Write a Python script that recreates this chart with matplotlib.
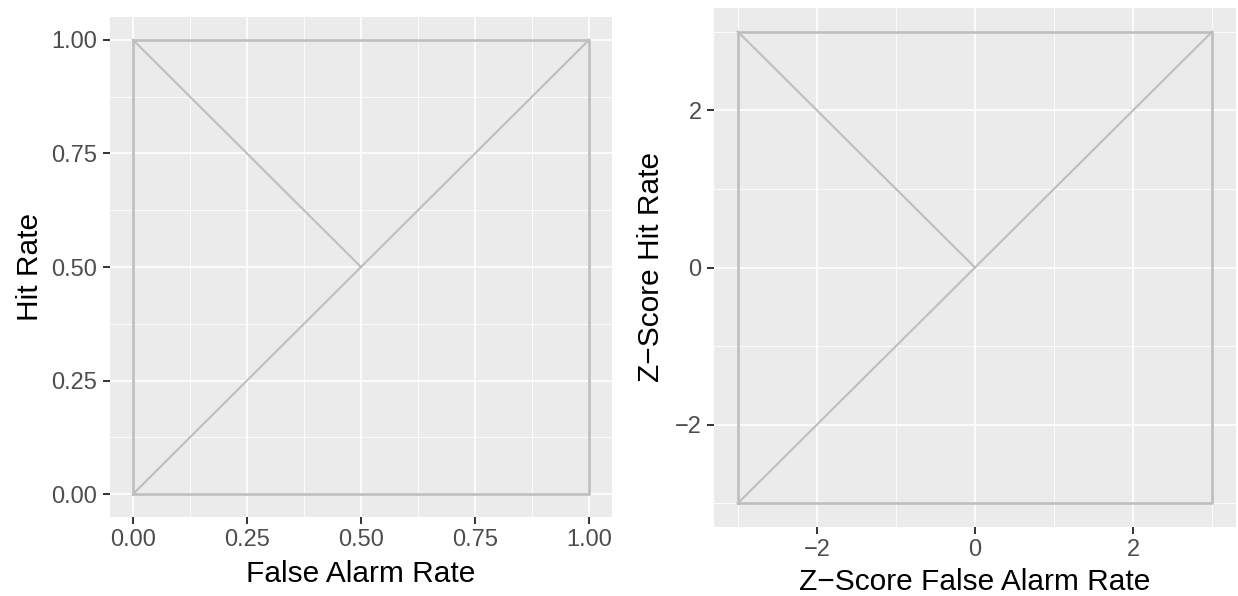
import matplotlib
matplotlib.use("Agg")
import matplotlib.pyplot as plt
import numpy as np

# ---- data ----
left_frame_x = [0, 1, 1, 0, 0]
left_frame_y = [0, 0, 1, 1, 0]
left_diag_x = [0, 1]
left_diag_y = [0, 1]
left_anti_x = [0, 0.5]
left_anti_y = [1, 0.5]
left_ticks = [0.00, 0.25, 0.50, 0.75, 1.00]
left_ticklabels = ["0.00", "0.25", "0.50", "0.75", "1.00"]
left_minor = [0.125, 0.375, 0.625, 0.875]

right_frame_x = [-3, 3, 3, -3, -3]
right_frame_y = [-3, -3, 3, 3, -3]
right_diag_x = [-3, 3]
right_diag_y = [-3, 3]
right_anti_x = [-3, 0]
right_anti_y = [3, 0]
right_ticks = [-2, 0, 2]
right_ticklabels = ["\u22122", "0", "2"]
right_minor = [-3, -1, 1, 3]

plt.rcParams['font.family'] = ['Liberation Sans', 'DejaVu Sans']

W, H = 1238, 596
fig = plt.figure(figsize=(W / 100, H / 100), dpi=100)

LINE = "#BEBEBE"
BG = "#EBEBEB"

def px_axes(x0, y0, x1, y1):
    return fig.add_axes([x0 / W, 1 - y1 / H, (x1 - x0) / W, (y1 - y0) / H])

def style(ax, ticks, labels, minor, lim):
    ax.set_facecolor(BG)
    for s in ax.spines.values():
        s.set_visible(False)
    ax.set_xlim(lim)
    ax.set_ylim(lim)
    ax.set_xticks(ticks)
    ax.set_yticks(ticks)
    ax.set_xticklabels(labels)
    ax.set_yticklabels(labels)
    for m in minor:
        ax.axvline(m, color="white", lw=0.6, zorder=0.5)
        ax.axhline(m, color="white", lw=0.6, zorder=0.5)
    for t in ticks:
        ax.axvline(t, color="white", lw=1.2, zorder=0.6)
        ax.axhline(t, color="white", lw=1.2, zorder=0.6)
    ax.tick_params(axis="both", length=5, width=1.4, color="#333333",
                   labelsize=17, labelcolor="#4D4D4D")
    ax.tick_params(axis="x", pad=4)
    ax.tick_params(axis="y", pad=4)

# left panel
ax1 = px_axes(110, 17, 612, 517)
style(ax1, left_ticks, left_ticklabels, left_minor, (-0.05, 1.05))
ax1.plot(left_frame_x, left_frame_y, color=LINE, lw=1.9, zorder=2)
ax1.plot(left_diag_x, left_diag_y, color=LINE, lw=1.5, zorder=2)
ax1.plot(left_anti_x, left_anti_y, color=LINE, lw=1.5, zorder=2)

# right panel
ax2 = px_axes(714, 8, 1236, 527)
style(ax2, right_ticks, right_ticklabels, right_minor, (-3.3, 3.3))
ax2.plot(right_frame_x, right_frame_y, color=LINE, lw=1.9, zorder=2)
ax2.plot(right_diag_x, right_diag_y, color=LINE, lw=1.5, zorder=2)
ax2.plot(right_anti_x, right_anti_y, color=LINE, lw=1.5, zorder=2)

# axis titles
TS = 21.5
fig.text(361 / W, 1 - 582 / H, "False Alarm Rate", ha="center", va="baseline",
         fontsize=TS, color="black")
fig.text(975 / W, 1 - 590 / H, "Z\u2212Score False Alarm Rate", ha="center", va="baseline",
         fontsize=TS, color="black")
fig.text(30 / W, 1 - 267 / H, "Hit Rate", ha="center", va="center",
         rotation=90, fontsize=TS, color="black")
fig.text(651 / W, 1 - 267 / H, "Z\u2212Score Hit Rate", ha="center", va="center",
         rotation=90, fontsize=TS, color="black")

fig.savefig("out.png", dpi=100)
